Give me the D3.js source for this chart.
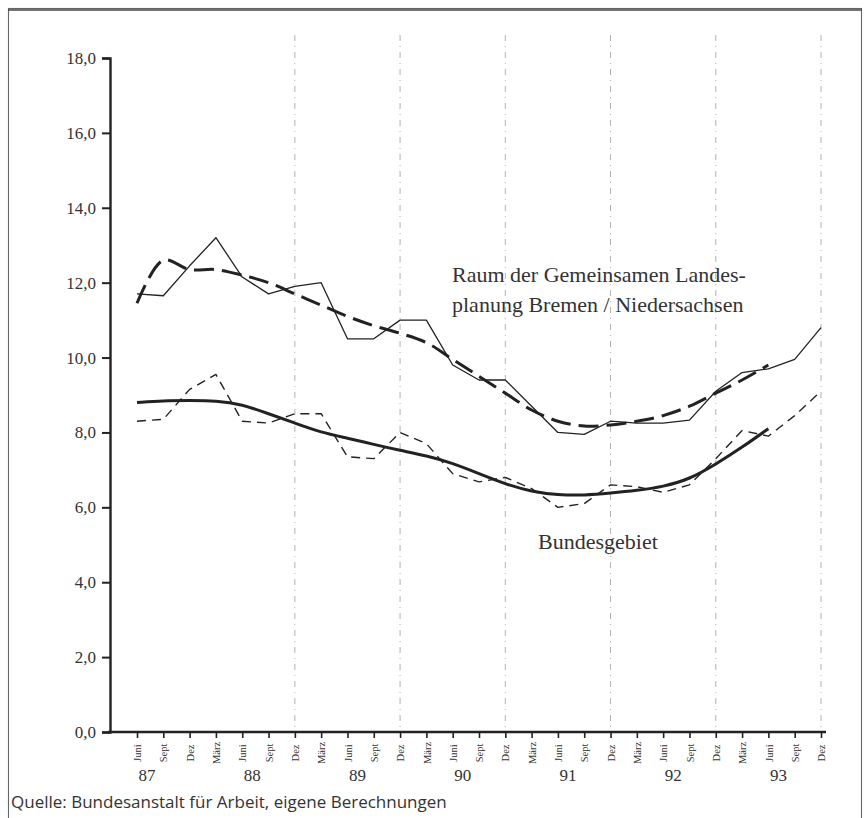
<!DOCTYPE html>
<html>
<head>
<meta charset="utf-8">
<script src="https://cdn.jsdelivr.net/npm/d3@7"></script>
<style>
  html, body { margin: 0; padding: 0; background: #fff; }
  svg { display: block; }
</style>
</head>
<body>
<svg id="chart" width="866" height="818"></svg>
<script>
// Quarterly periods, June 1987 to December 1993
const months = ["Juni","Sept","Dez",
  "März","Juni","Sept","Dez",
  "März","Juni","Sept","Dez",
  "März","Juni","Sept","Dez",
  "März","Juni","Sept","Dez",
  "März","Juni","Sept","Dez",
  "März","Juni","Sept","Dez"];
const periodYears = [87,87,87, 88,88,88,88, 89,89,89,89, 90,90,90,90,
  91,91,91,91, 92,92,92,92, 93,93,93,93];
const yearLabels = ["87","88","89","90","91","92","93"];
const yTicks = [0,2,4,6,8,10,12,14,16,18];

// Arbeitslosenquote (%), Raum der Gemeinsamen Landesplanung Bremen / Niedersachsen
const raumActual = [11.7, 11.65, 12.45, 13.2, 12.15, 11.7, 11.9, 12.0, 10.5, 10.5,
  11.0, 11.0, 9.8, 9.4, 9.4, 8.7, 8.0, 7.95, 8.3, 8.25, 8.25, 8.33, 9.1, 9.6,
  9.7, 9.95, 10.8];
const raumTrend = [11.45, 12.6, 12.35, 12.35, 12.2, 12.0, 11.7, 11.4, 11.1, 10.85,
  10.65, 10.4, 9.95, 9.5, 9.05, 8.6, 8.3, 8.17, 8.2, 8.3, 8.45, 8.7, 9.05, 9.4,
  9.8, null, null];

// Arbeitslosenquote (%), Bundesgebiet
const bundActual = [8.3, 8.35, 9.15, 9.55, 8.3, 8.25, 8.5, 8.5, 7.35, 7.3,
  8.0, 7.7, 6.9, 6.68, 6.8, 6.5, 6.0, 6.1, 6.6, 6.55, 6.4, 6.6, 7.3, 8.05,
  7.9, 8.45, 9.1];
const bundTrend = [8.8, 8.85, 8.85, 8.85, 8.75, 8.5, 8.25, 8.0, 7.85, 7.68,
  7.52, 7.38, 7.18, 6.9, 6.62, 6.42, 6.33, 6.32, 6.38, 6.45, 6.55, 6.75, 7.15,
  7.6, 8.1, null, null];

const keys = months.map((m, i) => m + " " + periodYears[i]);

const svg = d3.select("#chart");
const ink = "#222";
const serif = "'Liberation Serif', 'Times New Roman', serif";

// Frame around the figure
svg.append("rect")
  .attr("x", 8.5).attr("y", 8.5)
  .attr("width", 853).attr("height", 830)
  .attr("fill", "none").attr("stroke", "#666").attr("stroke-width", 1.1);
svg.append("line")
  .attr("x1", 8).attr("x2", 862).attr("y1", 10).attr("y2", 10)
  .attr("stroke", "#444").attr("stroke-width", 1.3);

const x = d3.scalePoint().domain(keys).range([137, 821]);
const y = d3.scaleLinear().domain([0, 18]).range([732, 58]);

// Vertical guides at each December
const decKeys = keys.filter((k, i) => months[i] === "Dez" && periodYears[i] > 87);
svg.append("g").selectAll("line")
  .data(decKeys)
  .join("line")
  .attr("x1", d => x(d)).attr("x2", d => x(d))
  .attr("y1", 35).attr("y2", y(0))
  .attr("stroke", "#999")
  .attr("stroke-width", 1)
  .attr("stroke-dasharray", "6,5,1,5")
  .attr("opacity", 0.75);

// Y axis
const yAxis = d3.axisLeft(y)
  .tickValues(yTicks)
  .tickSize(8)
  .tickFormat(d => d3.format(".1f")(d).replace(".", ","));
const gy = svg.append("g")
  .attr("transform", "translate(110,0)")
  .call(yAxis);
gy.select(".domain").attr("stroke", ink).attr("stroke-width", 2.4);
gy.selectAll(".tick line").attr("stroke", ink).attr("stroke-width", 2);
gy.selectAll(".tick text")
  .attr("x", -14)
  .attr("fill", "#333")
  .style("font-family", serif)
  .style("font-size", "17px");

// X axis
const xAxis = d3.axisBottom(x).tickSize(6).tickFormat((d, i) => months[i]);
const gx = svg.append("g")
  .attr("transform", `translate(0,${y(0)})`)
  .call(xAxis);
gx.select(".domain")
  .attr("d", `M108,0H826`)
  .attr("stroke", ink).attr("stroke-width", 2.6);
gx.selectAll(".tick line").attr("stroke", ink).attr("stroke-width", 1.6);
gx.selectAll(".tick text")
  .attr("transform", "rotate(-90)")
  .attr("x", -21)
  .attr("y", 0)
  .attr("dy", "0.35em")
  .attr("text-anchor", "middle")
  .attr("fill", "#333")
  .style("font-family", serif)
  .style("font-size", "10.5px");

// Year labels under each group of quarters
const juneKeys = keys.filter((k, i) => months[i] === "Juni");
svg.append("g").selectAll("text")
  .data(yearLabels)
  .join("text")
  .attr("x", (d, i) => x(juneKeys[i]) + 10)
  .attr("y", 781)
  .attr("text-anchor", "middle")
  .attr("fill", "#333")
  .style("font-family", serif)
  .style("font-size", "17px")
  .text(d => d);

// Series lines
function drawLine(values, opts) {
  const gen = d3.line()
    .defined(d => d != null)
    .x((d, i) => x(keys[i]))
    .y(d => y(d))
    .curve(opts.curve || d3.curveLinear);
  svg.append("path")
    .datum(values)
    .attr("d", gen)
    .attr("fill", "none")
    .attr("stroke", ink)
    .attr("stroke-width", opts.width)
    .attr("stroke-linejoin", "round")
    .attr("stroke-dasharray", opts.dash || null);
}

drawLine(raumActual, { width: 1.3 });
drawLine(raumTrend, { width: 3, dash: "20,8", curve: d3.curveCatmullRom });
drawLine(bundActual, { width: 1.4, dash: "9,6" });
drawLine(bundTrend, { width: 3, curve: d3.curveBasis });

// Series labels
const lbl = svg.append("g")
  .attr("fill", "#333")
  .style("font-family", serif)
  .style("font-size", "22px");
lbl.append("text").attr("x", 452).attr("y", 282).text("Raum der Gemeinsamen Landes-");
lbl.append("text").attr("x", 452).attr("y", 312).text("planung Bremen / Niedersachsen");
lbl.append("text").attr("x", 538).attr("y", 549).text("Bundesgebiet");

// Source note
svg.append("text")
  .attr("x", 11).attr("y", 808)
  .attr("fill", "#333")
  .style("font-family", "'Open Sans', 'Liberation Sans', sans-serif")
  .style("font-size", "17px")
  .text("Quelle: Bundesanstalt für Arbeit, eigene Berechnungen");
</script>
</body>
</html>
